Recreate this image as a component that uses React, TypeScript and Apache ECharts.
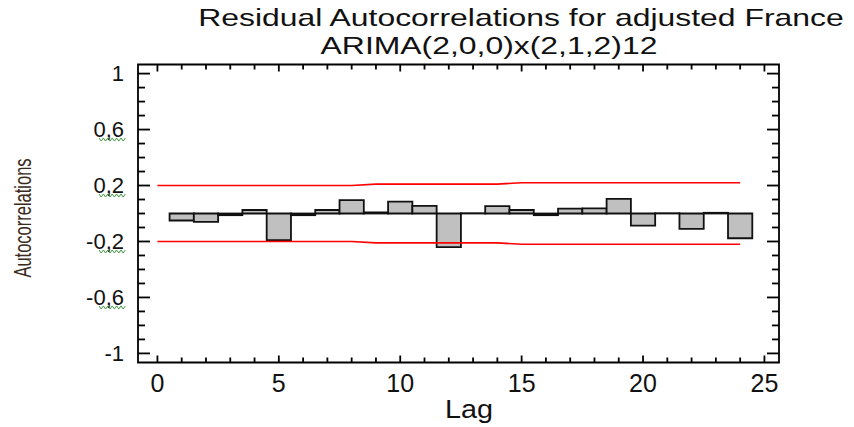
import React, { useEffect, useRef } from "react";
import * as echarts from "echarts";

const lags = [1, 2, 3, 4, 5, 6, 7, 8, 9, 10, 11, 12, 13, 14, 15, 16, 17, 18, 19, 20, 21, 22, 23, 24];
const acf = [-0.05, -0.06, -0.012, 0.025, -0.19, -0.012, 0.025, 0.095, 0.008, 0.085, 0.055, -0.24,
  0.002, 0.053, 0.025, -0.012, 0.035, 0.037, 0.105, -0.087, 0.002, -0.11, 0.005, -0.177];
const bandLags = [0, 1, 2, 3, 4, 5, 6, 7, 8, 9, 10, 11, 12, 13, 14, 15, 16, 17, 18, 19, 20, 21, 22, 23, 24];
const upperBand = [0.2, 0.2, 0.2, 0.2, 0.2, 0.2, 0.2, 0.2, 0.2, 0.21, 0.21, 0.21, 0.21, 0.21, 0.21,
  0.22, 0.22, 0.22, 0.22, 0.22, 0.22, 0.22, 0.22, 0.22, 0.22];
const lowerBand = [-0.2, -0.2, -0.2, -0.2, -0.2, -0.2, -0.2, -0.2, -0.2, -0.21, -0.21, -0.21, -0.21, -0.21, -0.21,
  -0.22, -0.22, -0.22, -0.22, -0.22, -0.22, -0.22, -0.22, -0.22, -0.22];
const xMajorTicks = [0, 5, 10, 15, 20, 25];
const xMinorTicks = [0, 1, 2, 3, 4, 5, 6, 7, 8, 9, 10, 11, 12, 13, 14, 15, 16, 17, 18, 19, 20, 21, 22, 23, 24, 25];
const yMajorTicks = [-1, -0.6, -0.2, 0.2, 0.6, 1];
const yMinorTicks = [-1, -0.9, -0.8, -0.7, -0.6, -0.5, -0.4, -0.3, -0.2, -0.1, 0, 0.1, 0.2, 0.3, 0.4, 0.5, 0.6, 0.7, 0.8, 0.9, 1];
const squiggleTicks = [0.6, 0.2, -0.2, -0.6];

const titleLine1 = "Residual Autocorrelations for adjusted France";
const titleLine2 = "ARIMA(2,0,0)x(2,1,2)12";
const xName = "Lag";
const yName = "Autocorrelations";

const X_MIN = -0.8;
const X_MAX = 25.6;
const Y_MIN = -1.065;
const Y_MAX = 1.065;
const FONT = '"Liberation Sans", Arial, sans-serif';
const TICK_W = 1.8;

function fmtY(v: number) {
  if (Math.abs(v - 1) < 1e-9) return "1";
  if (Math.abs(v + 1) < 1e-9) return "-1";
  return v.toFixed(1).replace(".", ",");
}

function isIn(list: number[], v: number) {
  return list.some((m) => Math.abs(m - v) < 1e-9);
}

function tickSeries(data: number[][], side: string) {
  return {
    type: "custom",
    name: "ticks-" + side,
    silent: true,
    z: 5,
    clip: false,
    data,
    renderItem: (params: any, api: any) => {
      const p = api.coord([api.value(0), api.value(1)]);
      if (side === "bottom" || side === "top") {
        const len = isIn(xMajorTicks, api.value(0)) ? 7 : 5;
        return {
          type: "rect",
          shape: { x: p[0] - TICK_W / 2, y: side === "bottom" ? p[1] - len : p[1], width: TICK_W, height: len },
          style: { fill: "#000" },
        };
      }
      const len = isIn(yMajorTicks, api.value(1)) ? 12 : 7;
      return {
        type: "rect",
        shape: { x: side === "left" ? p[0] : p[0] - len, y: p[1] - TICK_W / 2, width: len, height: TICK_W },
        style: { fill: "#000" },
      };
    },
  };
}

export default function App() {
  const ref = useRef<HTMLDivElement>(null);
  useEffect(() => {
    document.body.style.margin = "0";
    if (!ref.current) return;
    const chart = echarts.init(ref.current, null, { renderer: "svg" });
    chart.setOption({
      animation: false,
      backgroundColor: "#fff",
      grid: {
        left: 138,
        right: 75,
        top: 64.5,
        bottom: 64.5,
        show: true,
        borderColor: "#000",
        borderWidth: 1.8,
        backgroundColor: "transparent",
      },
      xAxis: {
        type: "value",
        min: X_MIN,
        max: X_MAX,
        position: "bottom",
        axisLine: { show: false, onZero: false },
        splitLine: { show: false },
        axisTick: { show: false },
        axisLabel: {
          show: true, customValues: xMajorTicks, fontSize: 25, fontFamily: FONT, color: "#111", margin: 8,
        },
      },
      yAxis: {
        type: "value",
        min: Y_MIN,
        max: Y_MAX,
        position: "left",
        axisLine: { show: false, onZero: false },
        splitLine: { show: false },
        axisTick: { show: false },
        axisLabel: {
          show: true, customValues: yMajorTicks, fontSize: 22, fontFamily: FONT, color: "#111", margin: 14,
          formatter: (v: number) => fmtY(v),
        },
      },
      series: [
        {
          type: "custom",
          name: "acf",
          data: lags.map((l, i) => [l, acf[i]]),
          renderItem: (params: any, api: any) => {
            const lag = api.value(0);
            const val = api.value(1);
            const p0 = api.coord([lag - 0.5, val]);
            const p1 = api.coord([lag + 0.5, 0]);
            const x = Math.min(p0[0], p1[0]);
            const y = Math.min(p0[1], p1[1]);
            return {
              type: "rect",
              shape: { x, y, width: Math.abs(p1[0] - p0[0]), height: Math.abs(p1[1] - p0[1]) },
              style: { fill: "#c0c0c0", stroke: "#111", lineWidth: 1.8 },
            };
          },
        },
        {
          type: "line",
          data: bandLags.map((l, i) => [l, upperBand[i]]),
          symbol: "none",
          lineStyle: { color: "#ff0000", width: 1.6 },
        },
        {
          type: "line",
          data: bandLags.map((l, i) => [l, lowerBand[i]]),
          symbol: "none",
          lineStyle: { color: "#ff0000", width: 1.6 },
        },
        tickSeries(xMinorTicks.map((v) => [v, Y_MIN]), "bottom"),
        tickSeries(xMinorTicks.map((v) => [v, Y_MAX]), "top"),
        tickSeries(yMinorTicks.map((v) => [X_MIN, v]), "left"),
        tickSeries(yMinorTicks.map((v) => [X_MAX, v]), "right"),
      ],
    });

    const squiggles = squiggleTicks.map((v) => {
      const py = (chart.convertToPixel({ yAxisIndex: 0 }, v) as number) + 10;
      const pts: number[][] = [];
      for (let i = 0; i <= 12; i++) {
        pts.push([99 + i * 2.2, py + (i % 2 === 0 ? -1.5 : 1.5)]);
      }
      return {
        type: "polyline",
        shape: { points: pts },
        style: { stroke: "#3a9a3a", lineWidth: 1, fill: "none" },
        silent: true,
      };
    });

    chart.setOption({
      graphic: [
        {
          type: "text",
          x: 521,
          y: 18,
          scaleX: 1.33,
          style: {
            text: titleLine1, font: `24px ${FONT}`, fill: "#111",
            align: "center", verticalAlign: "middle", textAlign: "center", textVerticalAlign: "middle",
          },
        },
        {
          type: "text",
          x: 489,
          y: 46,
          scaleX: 1.33,
          style: {
            text: titleLine2, font: `24px ${FONT}`, fill: "#111",
            align: "center", verticalAlign: "middle", textAlign: "center", textVerticalAlign: "middle",
          },
        },
        {
          type: "text",
          x: 469,
          y: 410,
          scaleX: 1.15,
          style: {
            text: xName, font: `25px ${FONT}`, fill: "#111",
            align: "center", verticalAlign: "middle", textAlign: "center", textVerticalAlign: "middle",
          },
        },
        {
          type: "text",
          x: 22.5,
          y: 218,
          rotation: Math.PI / 2,
          scaleY: 1.5,
          style: {
            text: yName, font: `16.5px ${FONT}`, fill: "#3b2a20",
            align: "center", verticalAlign: "middle", textAlign: "center", textVerticalAlign: "middle",
          },
        },
        ...squiggles,
      ],
    });

    return () => chart.dispose();
  }, []);
  return <div ref={ref} style={{ width: 854, height: 427 }} />;
}
